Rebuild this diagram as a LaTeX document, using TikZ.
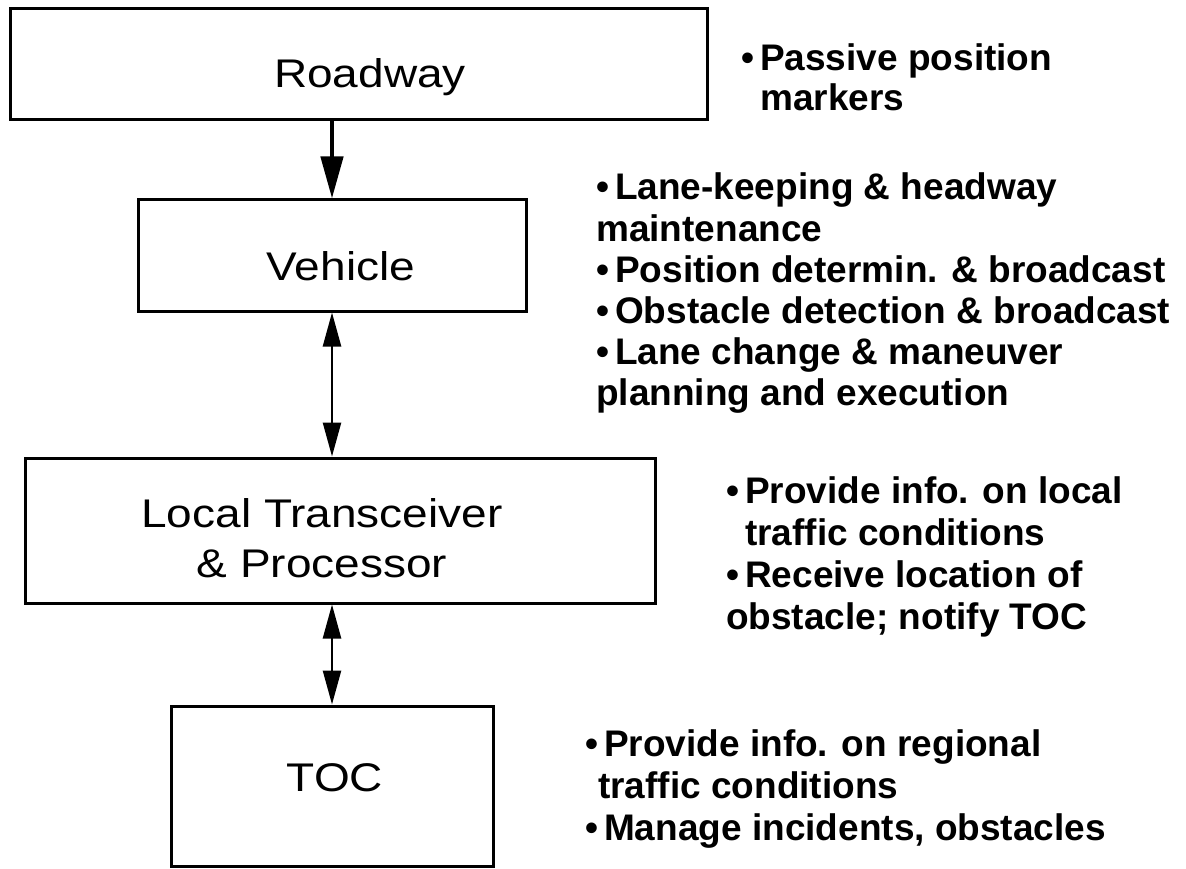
\documentclass[tikz,border=0pt]{standalone}
\usepackage{fontspec}
\setmainfont{Liberation Sans}
\newfontfamily\boxfont{Liberation Sans}[FakeStretch=1.15]
\usetikzlibrary{arrows.meta}

\tikzset{
  box/.style={draw=black, line width=3pt, fill=white, inner sep=0pt},
  lbl/.style={inner sep=0pt, anchor=base, font=\boxfont\fontsize{40}{50}\selectfont},
  notes/.style={inner sep=0pt, anchor=base west},
  oneway/.style={line width=4.5pt, -{Triangle[length=42pt,width=22pt]}},
  twoway/.style={line width=2.5pt,
                 {Triangle[length=34pt,width=18pt]}-{Triangle[length=34pt,width=18pt]}}
}
% bullet list set as a top-aligned column, first baseline on the node's base
\newcommand\notelist[2]{{\fontsize{37}{#1}\selectfont\bfseries
  \begin{tabular}[t]{@{}l@{}}#2\end{tabular}}}
\newcommand\bul{\textbullet\hspace{6pt}}

\begin{document}
\begin{tikzpicture}[x=1pt,y=-1pt]
  \useasboundingbox[fill=white] (0,0) rectangle (1186,869);

  % boxes of the chain
  \node[box, minimum width=697pt, minimum height=111pt] (road) at (358.5,64.5) {};
  \node[box, minimum width=388pt, minimum height=111pt] (veh)  at (332,255.5) {};
  \node[box, minimum width=630pt, minimum height=145pt] (loc)  at (340,530.5) {};
  \node[box, minimum width=322pt, minimum height=160pt] (toc)  at (332,786) {};

  % box labels
  \node[lbl] (roadtxt) at (370,88)  {Roadway};
  \node[lbl] (vehtxt)  at (341,280) {Vehicle};
  \node[lbl] (loctxta) at (322,527) {Local Transceiver};
  \node[lbl] (loctxtb) at (322,577) {\& Processor};
  \node[lbl] (toctxt)  at (335,791) {TOC};

  % connectors
  \draw[oneway] (road.south -| veh.north) -- (veh.north);
  \draw[twoway] (veh.south) -- (loc.north -| veh.south);
  \draw[twoway] (loc.south -| toc.north) -- (toc.north);

  % functions of each level
  \node[notes] (roadnotes) at (741,71) {\notelist{40}{%
     \bul Passive position\\
     \hspace{19pt}markers}};
  \node[notes] (vehnotes) at (596,200) {\notelist{41.2}{%
     \bul Lane-keeping \& headway\\
     maintenance\\
     \bul Position determin. \& broadcast\\
     \bul Obstacle detection \& broadcast\\
     \bul Lane change \& maneuver\\
     planning and execution}};
  \node[notes] (locnotes) at (726,503) {\notelist{42.3}{%
     \bul Provide info. on local\\
     \hspace{19pt}traffic conditions\\
     \bul Receive location of\\
     obstacle; notify TOC}};
  \node[notes] (tocnotes) at (585,756) {\notelist{42}{%
     \bul Provide info. on regional\\
     \hspace{13pt}traffic conditions\\
     \bul Manage incidents, obstacles}};
\end{tikzpicture}
\end{document}
